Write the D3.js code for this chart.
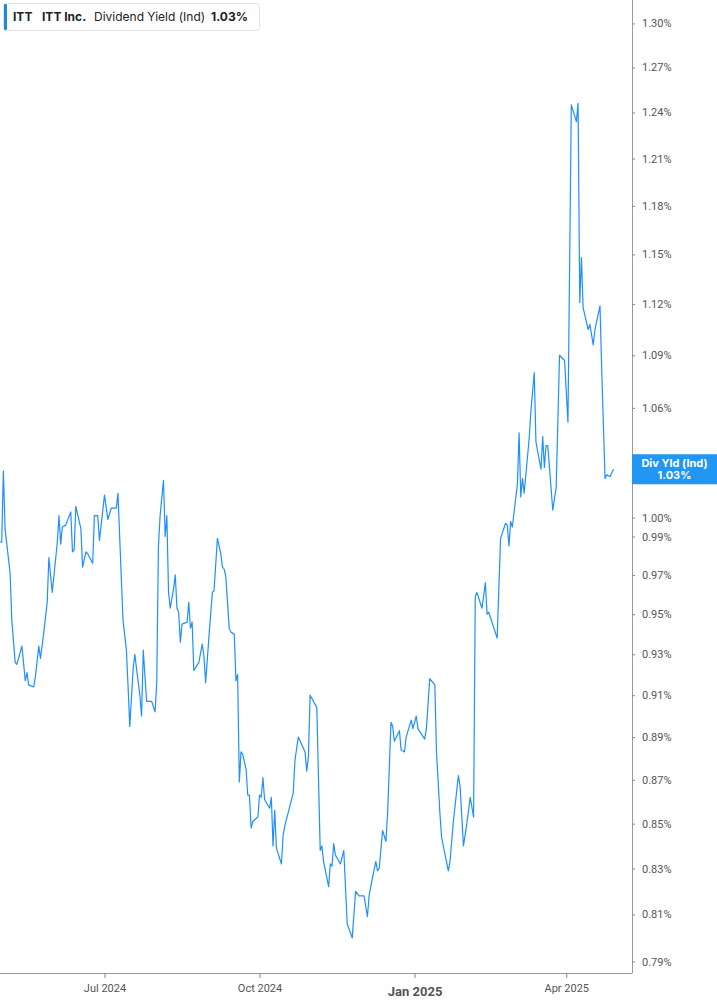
<!DOCTYPE html>
<html>
<head>
<meta charset="utf-8">
<script src="https://cdn.jsdelivr.net/npm/d3@7"></script>
<style>
  body { margin: 0; background: #fff; }
  svg { display: block; font-family: Inter, Roboto, "Noto Sans", sans-serif; }
</style>
</head>
<body>
<svg id="chart" width="717" height="1005"></svg>
<script>
// ITT Inc. - dividend yield (ind), daily, values in %
var dates = [
  "2024-04-30","2024-05-01","2024-05-02","2024-05-03","2024-05-06","2024-05-07","2024-05-09","2024-05-10",
  "2024-05-13","2024-05-15","2024-05-16","2024-05-17","2024-05-20","2024-05-21","2024-05-23","2024-05-24",
  "2024-05-26","2024-05-28","2024-05-29","2024-05-31","2024-06-03","2024-06-04","2024-06-05","2024-06-06",
  "2024-06-08","2024-06-11","2024-06-12","2024-06-13","2024-06-14","2024-06-17","2024-06-18","2024-06-20",
  "2024-06-21","2024-06-24","2024-06-25","2024-06-27","2024-06-28","2024-07-01","2024-07-03","2024-07-05",
  "2024-07-08","2024-07-09","2024-07-10","2024-07-12","2024-07-14","2024-07-15","2024-07-16","2024-07-18",
  "2024-07-19","2024-07-20","2024-07-22","2024-07-23","2024-07-24","2024-07-26","2024-07-29","2024-07-31",
  "2024-08-01","2024-08-02","2024-08-03","2024-08-05","2024-08-06","2024-08-07","2024-08-08","2024-08-09",
  "2024-08-11","2024-08-12","2024-08-13","2024-08-14","2024-08-15","2024-08-16","2024-08-19","2024-08-20",
  "2024-08-21","2024-08-22","2024-08-23","2024-08-26","2024-08-28","2024-08-29","2024-08-30","2024-09-01",
  "2024-09-03","2024-09-04","2024-09-06","2024-09-08","2024-09-09","2024-09-10","2024-09-11","2024-09-13",
  "2024-09-14","2024-09-16","2024-09-17","2024-09-18","2024-09-19","2024-09-20","2024-09-21","2024-09-23",
  "2024-09-24","2024-09-25","2024-09-26","2024-09-27","2024-09-30","2024-10-01","2024-10-02","2024-10-03",
  "2024-10-04","2024-10-07","2024-10-08","2024-10-09","2024-10-10","2024-10-11","2024-10-14","2024-10-15",
  "2024-10-16","2024-10-21","2024-10-22","2024-10-24","2024-10-28","2024-10-29","2024-10-30","2024-10-31",
  "2024-11-04","2024-11-05","2024-11-06","2024-11-07","2024-11-08","2024-11-11","2024-11-12","2024-11-13",
  "2024-11-14","2024-11-15","2024-11-18","2024-11-20","2024-11-22","2024-11-25","2024-11-27","2024-11-29",
  "2024-12-02","2024-12-04","2024-12-05","2024-12-07","2024-12-09","2024-12-10","2024-12-11","2024-12-13",
  "2024-12-15","2024-12-16","2024-12-18","2024-12-19","2024-12-20","2024-12-23","2024-12-24","2024-12-26",
  "2024-12-27","2024-12-30","2024-12-31","2025-01-02","2025-01-03","2025-01-07","2025-01-08","2025-01-10",
  "2025-01-13","2025-01-14","2025-01-16","2025-01-17","2025-01-21","2025-01-22","2025-01-24","2025-01-27",
  "2025-01-28","2025-01-30","2025-02-01","2025-02-03","2025-02-05","2025-02-06","2025-02-07","2025-02-10",
  "2025-02-12","2025-02-13","2025-02-14","2025-02-19","2025-02-21","2025-02-24","2025-02-25","2025-02-26",
  "2025-02-27","2025-02-28","2025-03-03","2025-03-04","2025-03-05","2025-03-06","2025-03-07","2025-03-10",
  "2025-03-11","2025-03-13","2025-03-14","2025-03-17","2025-03-18","2025-03-19","2025-03-20","2025-03-21",
  "2025-03-24","2025-03-26","2025-03-28","2025-03-31","2025-04-02","2025-04-04","2025-04-07","2025-04-08",
  "2025-04-09","2025-04-10","2025-04-11","2025-04-14","2025-04-15","2025-04-17","2025-04-18","2025-04-21",
  "2025-04-22","2025-04-24","2025-04-25","2025-04-27","2025-04-29"
];

var divYield = [
  0.987,0.987,1.025,0.994,0.971,0.947,0.926,0.925,
  0.934,0.917,0.921,0.915,0.914,0.919,0.934,0.928,
  0.941,0.956,0.979,0.961,0.987,1.001,0.986,0.995,
  0.996,1.003,0.982,0.983,1.006,0.994,0.974,0.982,
  0.981,0.976,1.001,1.001,0.988,1.012,0.999,1.005,
  1.005,1.013,0.990,0.947,0.932,0.914,0.895,0.923,
  0.930,0.923,0.910,0.900,0.932,0.907,0.907,0.902,
  0.916,0.985,1.001,1.020,0.990,1.001,0.961,0.953,
  0.963,0.970,0.953,0.951,0.936,0.945,0.946,0.956,
  0.943,0.946,0.922,0.926,0.935,0.929,0.916,0.939,
  0.961,0.962,0.989,0.981,0.974,0.973,0.969,0.943,
  0.941,0.940,0.917,0.920,0.869,0.883,0.882,0.875,
  0.863,0.863,0.848,0.851,0.853,0.863,0.862,0.871,
  0.861,0.857,0.862,0.840,0.856,0.839,0.832,0.845,
  0.849,0.864,0.879,0.890,0.883,0.874,0.881,0.910,
  0.904,0.870,0.838,0.840,0.833,0.822,0.832,0.831,
  0.841,0.836,0.832,0.838,0.806,0.800,0.820,0.818,
  0.818,0.809,0.818,0.826,0.833,0.829,0.830,0.847,
  0.842,0.855,0.897,0.895,0.888,0.893,0.884,0.883,
  0.890,0.898,0.894,0.900,0.894,0.889,0.894,0.918,
  0.915,0.883,0.855,0.844,0.829,0.833,0.851,0.872,
  0.867,0.840,0.850,0.862,0.853,0.959,0.961,0.953,
  0.966,0.950,0.951,0.938,0.989,0.997,0.996,0.985,
  0.998,0.995,1.018,1.046,1.011,1.021,1.013,1.043,
  1.058,1.080,1.041,1.026,1.044,1.027,1.039,1.039,
  1.004,1.016,1.090,1.087,1.052,1.245,1.234,1.246,
  1.121,1.148,1.118,1.105,1.108,1.096,1.105,1.119,
  1.083,1.021,1.023,1.022,1.026
];

// 1.03% sits under the last-value tag, so it is left out here
var yTicks = [0.79, 0.81, 0.83, 0.85, 0.87, 0.89, 0.91, 0.93, 0.95, 0.97, 0.99, 1.00,
              1.06, 1.09, 1.12, 1.15, 1.18, 1.21, 1.24, 1.27, 1.30];
var xTickDates = ["2024-07-01", "2024-10-01", "2025-01-01", "2025-04-01"];
var xTickLabels = ["Jul 2024", "Oct 2024", "Jan 2025", "Apr 2025"];

var ticker = "ITT", company = "ITT Inc.", metric = "Dividend Yield (Ind)";

// layout
var W = 717, H = 1005;
var plotW = 632, plotH = 973;
var lineColor = "#1e8fff";

var parse = d3.timeParse("%Y-%m-%d");
var data = dates.map(function (d, i) { return { date: parse(d), value: divYield[i] }; });
var last = data[data.length - 1];

var svg = d3.select("#chart");

var x = d3.scaleTime()
  .domain([parse("2024-04-30"), parse("2025-05-10")])
  .range([0, plotW]);

var y = d3.scaleLog()
  .domain([0.7852, 1.3163])
  .range([plotH, 0]);

// line
var line = d3.line()
  .x(function (d) { return x(d.date); })
  .y(function (d) { return y(d.value); });

svg.append("path")
  .datum(data)
  .attr("fill", "none")
  .attr("stroke", lineColor)
  .attr("stroke-width", 1.2)
  .attr("stroke-linejoin", "round")
  .attr("d", line);

// y axis (right)
var yAxis = svg.append("g")
  .attr("class", "yAxis")
  .attr("transform", "translate(" + plotW + ",0)")
  .call(d3.axisRight(y)
    .tickValues(yTicks)
    .tickFormat(function (d) { return d.toFixed(2) + "%"; })
    .tickSize(3)
    .tickSizeOuter(0)
    .tickPadding(7));

yAxis.select(".domain").attr("stroke", "#9a9a9a").attr("d", "M0.5,0V" + plotH);
yAxis.selectAll(".tick line").attr("stroke", "#888");
yAxis.selectAll(".tick text")
  .attr("fill", "#555")
  .style("font-size", "11px")
  .style("font-family", "Roboto, sans-serif");

// x axis
var xAxis = svg.append("g")
  .attr("class", "xAxis")
  .attr("transform", "translate(0," + plotH + ")")
  .call(d3.axisBottom(x)
    .tickValues(xTickDates.map(parse))
    .tickFormat(function (d, i) { return xTickLabels[i]; })
    .tickSize(5)
    .tickSizeOuter(0)
    .tickPadding(6));

xAxis.select(".domain").attr("stroke", "#9a9a9a").attr("d", "M0,0.5H" + (plotW + 0.5));
xAxis.selectAll(".tick line").attr("stroke", "#888");
xAxis.selectAll(".tick text")
  .attr("fill", "#555")
  .style("font-size", "11px")
  .style("font-family", "Roboto, sans-serif")
  .filter(function (d, i) { return xTickLabels[i] === "Jan 2025"; })
  .attr("y", 14)
  .style("font-weight", "bold")
  .style("font-size", "13px");

// last value tag
var tagY = y(last.value);
var tag = svg.append("g").attr("transform", "translate(" + plotW + "," + tagY + ")");
tag.append("rect")
  .attr("x", 0).attr("y", -15)
  .attr("width", W - plotW).attr("height", 30)
  .attr("fill", "#2196f3");
tag.append("text")
  .attr("x", (W - plotW) / 2).attr("y", -2)
  .attr("text-anchor", "middle")
  .attr("fill", "#fff")
  .style("font-size", "11px").style("font-weight", "bold")
  .text("Div Yld (Ind)");
tag.append("text")
  .attr("x", (W - plotW) / 2).attr("y", 10)
  .attr("text-anchor", "middle")
  .attr("fill", "#fff")
  .style("font-size", "11px").style("font-weight", "bold")
  .text(last.value.toFixed(2) + "%");

// legend box
var legend = svg.append("g").attr("class", "legend");
legend.append("rect")
  .attr("x", 3.5).attr("y", 3.5)
  .attr("width", 256).attr("height", 27)
  .attr("rx", 3)
  .attr("fill", "#fff")
  .attr("stroke", "#e3e3e3");
legend.append("rect")
  .attr("x", 4).attr("y", 4)
  .attr("width", 3).attr("height", 26)
  .attr("rx", 1)
  .attr("fill", "#1e88e5");

var lt = legend.append("text").attr("y", 21).style("font-size", "12px").attr("fill", "#222");
lt.append("tspan").attr("x", 13).style("font-weight", "bold").text(ticker);
lt.append("tspan").attr("x", 42).style("font-weight", "bold").text(company);
lt.append("tspan").attr("x", 94).text(metric);
lt.append("tspan").attr("x", 211).style("font-weight", "bold").text(last.value.toFixed(2) + "%");
</script>
</body>
</html>
